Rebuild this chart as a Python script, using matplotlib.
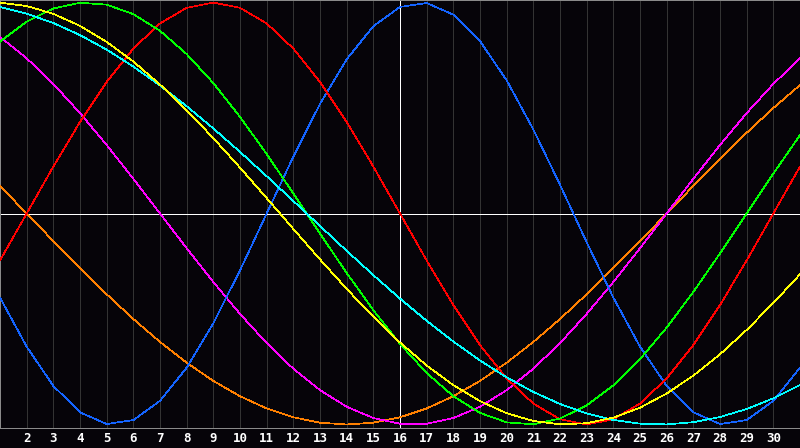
import numpy as np
import matplotlib
matplotlib.use("Agg")
from matplotlib import pyplot as plt

# days of the month shown, day 16 is "today"
days = list(range(1, 32))
today = 16
tick_days = list(range(2, 31))

# cycle values, one per day (day 1..31)
physical = [-0.3984, -0.6311, -0.8170, -0.9423, -0.9977, -0.9791, -0.8879, -0.7308,
            -0.5196, -0.2698, 0.0, 0.2698, 0.5196, 0.7308, 0.8879, 0.9791,
            0.9977, 0.9423, 0.8170, 0.6311, 0.3984, 0.1362, -0.1362, -0.3984,
            -0.6311, -0.8170, -0.9423, -0.9977, -0.9791, -0.8879, -0.7308]
emotional = [-0.2225, 0.0, 0.2225, 0.4339, 0.6235, 0.7818, 0.9010, 0.9749,
             1.0, 0.9749, 0.9010, 0.7818, 0.6235, 0.4339, 0.2225, 0.0,
             -0.2225, -0.4339, -0.6235, -0.7818, -0.9010, -0.9749, -1.0, -0.9749,
             -0.9010, -0.7818, -0.6235, -0.4339, -0.2225, 0.0, 0.2225]
intellectual = [0.8146, 0.9096, 0.9718, 0.9989, 0.9898, 0.9450, 0.8660, 0.7557,
                0.6182, 0.4582, 0.2817, 0.0951, -0.0951, -0.2817, -0.4582, -0.6182,
                -0.7557, -0.8660, -0.9450, -0.9898, -0.9989, -0.9718, -0.9096, -0.8146,
                -0.6901, -0.5406, -0.3717, -0.1893, 0.0, 0.1893, 0.3717]
intuitive = [0.8372, 0.7357, 0.6142, 0.4759, 0.3247, 0.1646, 0.0, -0.1646,
             -0.3247, -0.4759, -0.6142, -0.7357, -0.8372, -0.9158, -0.9694, -0.9966,
             -0.9966, -0.9694, -0.9158, -0.8372, -0.7357, -0.6142, -0.4759, -0.3247,
             -0.1646, 0.0, 0.1646, 0.3247, 0.4759, 0.6142, 0.7357]
aesthetic = [0.9993, 0.9834, 0.9465, 0.8894, 0.8135, 0.7204, 0.6113, 0.4894,
             0.3572, 0.2174, 0.0730, -0.0730, -0.2174, -0.3572, -0.4894, -0.6113,
             -0.7204, -0.8135, -0.8894, -0.9465, -0.9834, -0.9993, -0.9940, -0.9675,
             -0.9203, -0.8533, -0.7683, -0.6672, -0.5517, -0.4244, -0.2881]
awareness = [0.1305, 0.0, -0.1305, -0.2588, -0.3827, -0.5, -0.6088, -0.7071,
             -0.7934, -0.8660, -0.9239, -0.9659, -0.9914, -1.0, -0.9914, -0.9659,
             -0.9239, -0.8660, -0.7934, -0.7071, -0.6088, -0.5, -0.3827, -0.2588,
             -0.1305, 0.0, 0.1305, 0.2588, 0.3827, 0.5, 0.6088]
spiritual = [0.9786, 0.9473, 0.9028, 0.8457, 0.7767, 0.6965, 0.6068, 0.5085,
             0.4032, 0.2920, 0.1769, 0.0592, -0.0592, -0.1769, -0.2920, -0.4032,
             -0.5085, -0.6068, -0.6965, -0.7767, -0.8457, -0.9028, -0.9473, -0.9786,
             -0.9960, -0.9996, -0.9890, -0.9646, -0.9267, -0.8757, -0.8124]

bg = "#060409"
px = 0.72  # one pixel at 100 dpi, in points
fig = plt.figure(figsize=(8, 4.48), dpi=100, facecolor=bg)
ax = fig.add_axes([0, 20 / 448, 1, 428 / 448], facecolor=bg)

for d in tick_days:
    ax.axvline(d, color="#333333", lw=px, antialiased=False, zorder=1)
ax.axvline(today, color="white", lw=px, antialiased=False, zorder=2)
ax.axhline(0, color="white", lw=px, antialiased=False, zorder=2)

series = [(awareness, "#ff8000"), (intuitive, "#ff00ff"), (physical, "#1464ff"),
          (emotional, "#ff0000"), (intellectual, "#00ff00"), (spiritual, "#00ffff"),
          (aesthetic, "#ffff00")]
for vals, c in series:
    ax.plot(days, vals, color=c, lw=0.5, antialiased=False, zorder=3)

ax.set_xlim(1, 31)
ax.set_ylim(-1.0166, 1.012)
ax.set_yticks([])
ax.set_xticks(tick_days)
ax.set_xticklabels([str(d) for d in tick_days], color="white",
                   fontfamily="DejaVu Sans Mono", fontweight="bold", fontsize=9)
ax.tick_params(axis="x", length=0, pad=3)
ax.spines["right"].set_visible(False)
for s in ["left", "top", "bottom"]:
    ax.spines[s].set_color("#8a8a8a")
    ax.spines[s].set_linewidth(2 * px if s != "bottom" else px)
    ax.spines[s].set_antialiased(False)

fig.savefig("out.png", dpi=100, facecolor=bg)
